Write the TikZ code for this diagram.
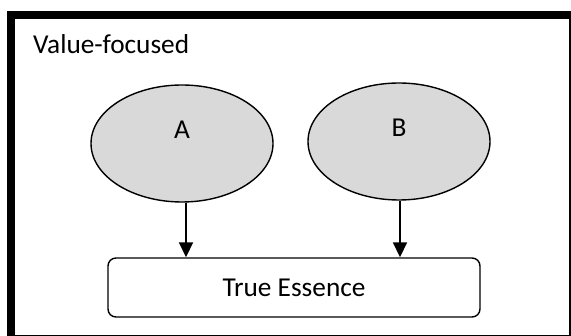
\documentclass[tikz,border=0pt]{standalone}
\usepackage{fontspec}
\setmainfont{Carlito}
\usetikzlibrary{shapes.geometric,arrows.meta}
\definecolor{ellfill}{HTML}{D9D9D9}
\tikzset{
  oval/.style={ellipse, draw, line width=1.4pt, fill=ellfill, minimum width=182pt, minimum height=117pt, inner sep=0pt},
  lbl/.style={font=\fontsize{27.3}{31}\selectfont, inner sep=0pt},
  essbox/.style={draw, line width=1.4pt, rounded corners=8pt, minimum width=372pt, minimum height=59pt, inner sep=0pt},
  arr/.style={line width=1.8pt, -{Triangle[width=14pt,length=15pt]}}
}
\begin{document}
\begin{tikzpicture}[x=1pt,y=-1pt]
\useasboundingbox (0,0) rectangle (571,336);
\begin{scope}
\clip (0,0) rectangle (571,336);
\draw[line width=8pt] (10.5,15) rectangle (573,339);
\end{scope}
\node[lbl, anchor=base west] (title) at (33,54) {Value-focused};
\node[oval] (A) at (182,143.5) {};
\node[oval] (B) at (399,141.5) {};
\node[lbl] (la) at (182,130) {A};
\node[lbl] (lb) at (399,128) {B};
\node[essbox] (E) at (294,287.5) {};
\node[lbl] (te) at (294,288) {True Essence};
\coordinate (a1) at ([xshift=4pt]A.south);
\coordinate (b1) at ([xshift=1pt]B.south);
\draw[arr] (a1) -- (a1 |- E.north);
\draw[arr] (b1) -- (b1 |- E.north);
\end{tikzpicture}
\end{document}
